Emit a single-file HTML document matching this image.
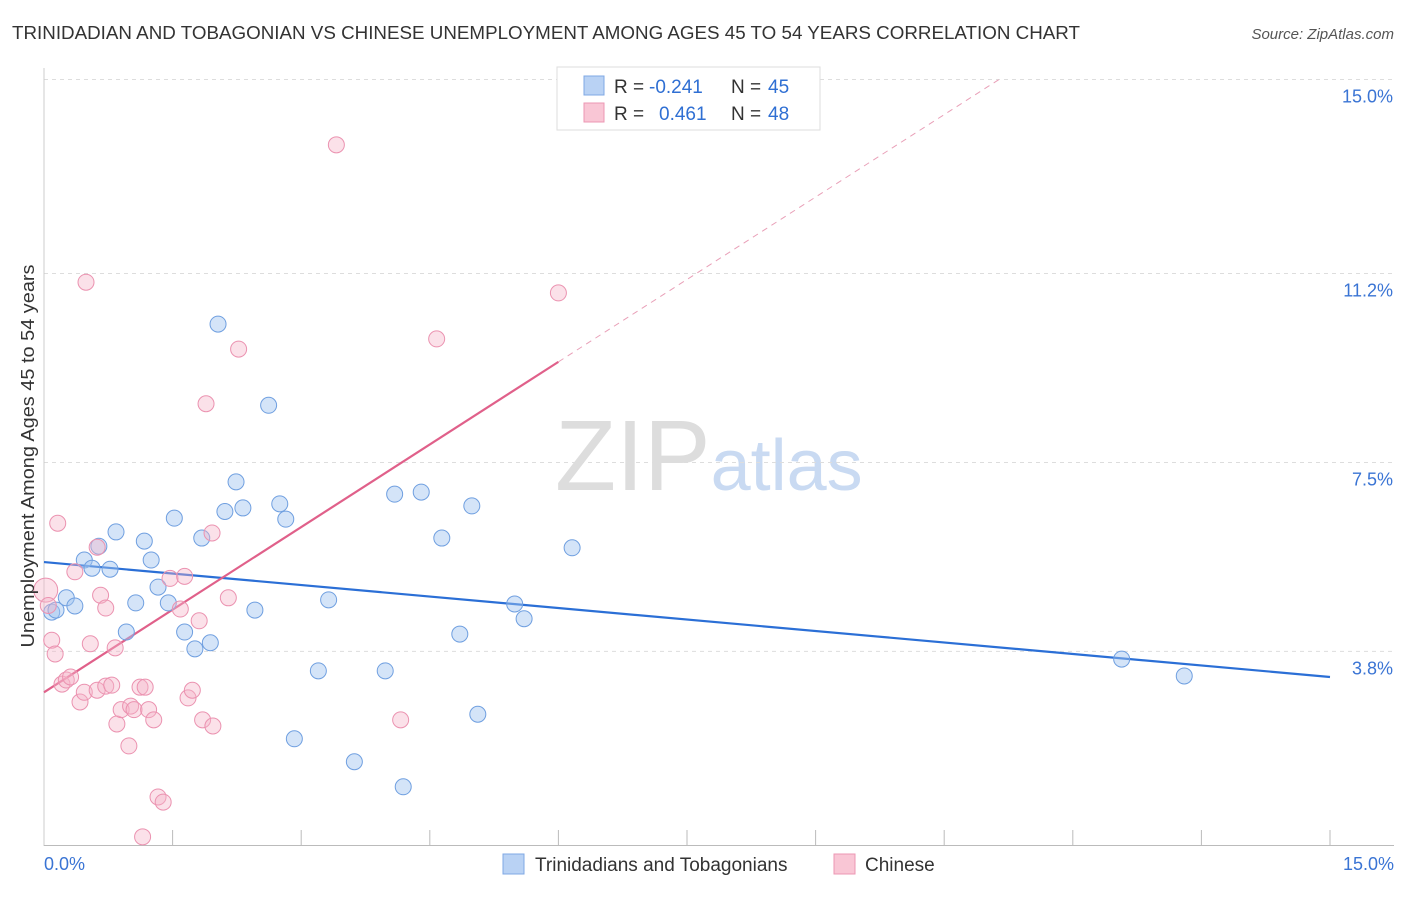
<!DOCTYPE html>
<html><head><meta charset="utf-8"><style>
body{margin:0;background:#fff;font-family:"Liberation Sans",sans-serif;}
svg text{font-family:"Liberation Sans",sans-serif;}
</style></head><body>
<svg id="chart" width="1406" height="892" viewBox="0 0 1406 892">
<text x="12" y="39" font-size="18" fill="#333" textLength="1068" lengthAdjust="spacingAndGlyphs">TRINIDADIAN AND TOBAGONIAN VS CHINESE UNEMPLOYMENT AMONG AGES 45 TO 54 YEARS CORRELATION CHART</text>
<text x="1394" y="39" font-size="15" fill="#555" text-anchor="end" font-style="italic">Source: ZipAtlas.com</text>
<text x="555" y="490" font-size="100" fill="#ddd" font-family="Liberation Serif"><tspan>ZIP</tspan><tspan fill="#c9daf2" font-family="Liberation Sans" font-size="72">atlas</tspan></text>
<g id="grid"></g>
<g id="axes"></g>
<g id="lines"></g>
<g id="pts"></g>
<text transform="translate(34,456) rotate(-90)" text-anchor="middle" font-size="18" fill="#333" textLength="383" lengthAdjust="spacingAndGlyphs">Unemployment Among Ages 45 to 54 years</text>
<g>
<rect x="557" y="67" width="263" height="63" fill="#fff" stroke="#ddd"/>
<rect x="584" y="76" width="20" height="19" fill="#b9d2f4" stroke="#7fa8e4"/>
<rect x="584" y="103" width="20" height="19" fill="#f9c6d5" stroke="#ec97b3"/>
<text x="614" y="93" font-size="19" fill="#333">R =</text>
<text x="649" y="93" font-size="19" fill="#2f6fd3">-0.241</text>
<text x="731" y="93" font-size="19" fill="#333">N =</text>
<text x="768" y="93" font-size="19" fill="#2f6fd3">45</text>
<text x="614" y="120" font-size="19" fill="#333">R =</text>
<text x="659" y="120" font-size="19" fill="#2f6fd3">0.461</text>
<text x="731" y="120" font-size="19" fill="#333">N =</text>
<text x="768" y="120" font-size="19" fill="#2f6fd3">48</text>
</g>
<g>
<rect x="503" y="854" width="21" height="20" fill="#b9d2f4" stroke="#7fa8e4"/>
<text x="535" y="871" font-size="19" fill="#333">Trinidadians and Tobagonians</text>
<rect x="834" y="854" width="21" height="20" fill="#f9c6d5" stroke="#ec97b3"/>
<text x="865" y="871" font-size="19" fill="#333">Chinese</text>
</g>
</svg>
<script>
const yTicks=[3.8,7.5,11.2,15.0];
const xTickCount=10;
const blueX=[0.09,0.14,0.26,0.36,0.47,0.56,0.64,0.77,0.84,0.96,1.07,1.17,1.25,1.33,1.45,1.52,1.64,1.76,1.84,1.94,2.03,2.11,2.24,2.32,2.46,2.62,2.75,2.82,2.92,3.20,3.32,3.62,3.98,4.09,4.19,4.40,4.64,4.85,4.99,5.06,5.49,5.60,6.16,12.57,13.30];
const blueY=[4.57,4.61,4.85,4.69,5.59,5.43,5.86,5.41,6.14,4.18,4.75,5.96,5.59,5.06,4.75,6.41,4.18,3.85,6.02,3.97,10.21,6.54,7.12,6.61,4.61,8.62,6.69,6.39,2.09,3.42,4.81,1.64,3.42,6.88,1.15,6.92,6.02,4.14,6.65,2.57,4.73,4.44,5.83,3.65,3.32];
const pinkX=[0.02,0.09,0.13,0.16,0.21,0.26,0.31,0.36,0.42,0.47,0.54,0.62,0.62,0.66,0.72,0.72,0.79,0.83,0.85,0.90,0.99,1.01,1.05,1.12,1.18,1.22,1.28,1.33,1.39,1.15,1.47,1.59,1.64,1.68,1.73,1.81,1.85,1.89,1.96,1.97,2.15,2.27,0.49,3.41,4.16,4.58,6.00,0.05];
const pinkY=[5.00,4.02,3.75,6.31,3.16,3.24,3.30,5.36,2.81,3.00,3.95,3.04,5.84,4.90,4.65,3.12,3.14,3.87,2.38,2.66,1.95,2.73,2.66,3.10,3.10,2.66,2.46,0.95,0.85,0.17,5.23,4.63,5.27,2.89,3.04,4.40,2.46,8.65,6.12,2.34,4.85,9.72,11.03,13.72,2.46,9.92,10.82,4.70];
const blueLine=[[0,5.55],[15,3.30]];
const pinkLine=[[0,3.0],[6.0,9.47]];
const pinkDash=[[6.0,9.47],[11.14,15.0]];
const NS="http://www.w3.org/2000/svg";
const sx=v=>44+v*(1286/15);
const sy=v=>845.5-v*51.07;
function mk(tag,attrs,parent){const e=document.createElementNS(NS,tag);for(const k in attrs)e.setAttribute(k,attrs[k]);document.getElementById(parent).appendChild(e);return e;}
yTicks.forEach(t=>{
 const l=mk('line',{x1:44,x2:1394,y1:sy(t),y2:sy(t),stroke:'#ddd','stroke-dasharray':'4,4'},'grid');
 
 
 const tx=mk('text',{x:1393,y:sy(t)+23,'text-anchor':'end','font-size':18,fill:'#3a74d4'},'grid');
 tx.textContent=t.toFixed(1)+'%';
 
 
});
mk('line',{x1:44,x2:44,y1:68,y2:846,stroke:'#ccc'},'axes');
const xa=mk('line',{x1:44,x2:1394,y1:845.5,y2:845.5,stroke:'#bbb'},'axes');


for(let i=1;i<=xTickCount;i++){const t=mk('line',{x1:sx(i*1.5),x2:sx(i*1.5),y1:830,y2:846,stroke:'#bbb'},'axes');
 
 }
const x0=mk('text',{x:44,y:870,'font-size':18,fill:'#3a74d4'},'axes');x0.textContent='0.0%';


const x1=mk('text',{x:1394,y:870,'font-size':18,fill:'#3a74d4','text-anchor':'end'},'axes');x1.textContent='15.0%';


blueX.forEach((x,i)=>{const c=mk('circle',{cx:sx(x),cy:sy(blueY[i]),r:8,fill:'rgba(160,195,240,0.45)',stroke:'#6f9fe0','stroke-width':1},'pts');
 
 });
pinkX.forEach((x,i)=>{const c=mk('circle',{cx:sx(x),cy:sy(pinkY[i]),r:i==0?12:8,fill:'rgba(246,180,200,0.4)',stroke:'#eb92b0','stroke-width':1},'pts');
 
 });
const bl=mk('line',{x1:sx(blueLine[0][0]),y1:sy(blueLine[0][1]),x2:sx(blueLine[1][0]),y2:sy(blueLine[1][1]),stroke:'#2b6fd6','stroke-width':2.2},'lines');


const pl=mk('line',{x1:sx(pinkLine[0][0]),y1:sy(pinkLine[0][1]),x2:sx(pinkLine[1][0]),y2:sy(pinkLine[1][1]),stroke:'#e0608a','stroke-width':2.2},'lines');


const pd=mk('line',{x1:sx(pinkDash[0][0]),y1:sy(pinkDash[0][1]),x2:sx(pinkDash[1][0]),y2:sy(pinkDash[1][1]),stroke:'#e9a0b8','stroke-width':1,'stroke-dasharray':'6,5'},'lines');


</script>
</body></html>
